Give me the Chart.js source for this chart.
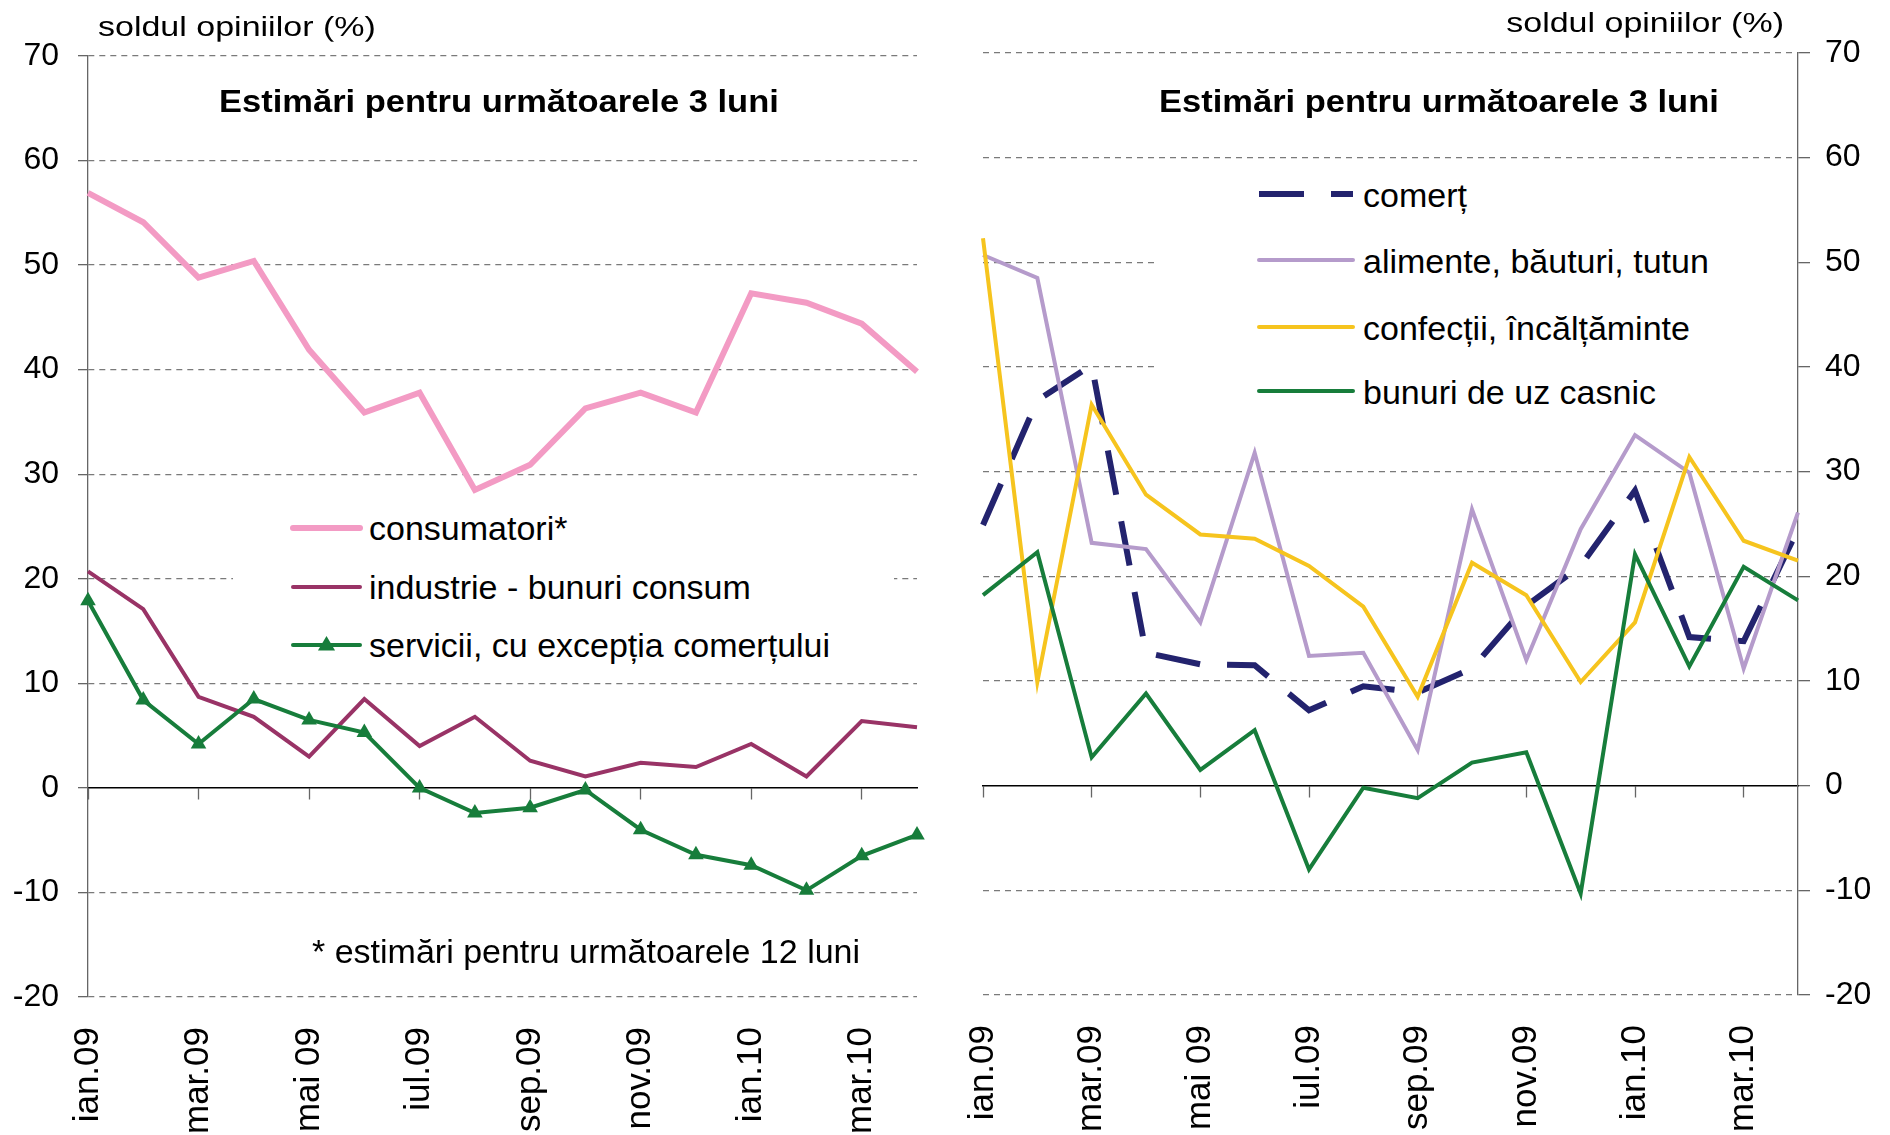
<!DOCTYPE html>
<html><head><meta charset="utf-8">
<script src="https://cdn.jsdelivr.net/npm/chart.js@4.4.1/dist/chart.umd.min.js"></script>
<style>
html,body{margin:0;padding:0;background:#fff;}
#wrap{position:relative;width:1890px;height:1135px;overflow:hidden;font-family:"Liberation Sans",Arial,sans-serif;color:#000;background:#fff;}
canvas{position:absolute;top:0;}
#c1{left:0;} #c2{left:960px;}
.t{position:absolute;white-space:nowrap;line-height:1;}
.box{position:absolute;background:#fff;}
</style></head><body>
<div id="wrap">
<canvas id="c1" width="960" height="1135"></canvas>
<canvas id="c2" width="930" height="1135"></canvas>
</div>
<script>
// ---------- DATA ----------
const months = ['ian.09','feb.09','mar.09','apr.09','mai 09','iun.09','iul.09','aug.09','sep.09','oct.09','nov.09','dec.09','ian.10','feb.10','mar.10','apr.10'];
const yTicks = [-20,-10,0,10,20,30,40,50,60,70];

const leftNames = ['consumatori*','industrie - bunuri consum','servicii, cu excepția comerțului'];
const consumatori = [56.9, 54.1, 48.8, 50.4, 41.9, 35.9, 37.8, 28.5, 30.9, 36.3, 37.8, 35.9, 47.3, 46.4, 44.4, 39.8];
const industrie   = [20.7, 17.1, 8.7, 6.8, 3.0, 8.5, 4.0, 6.8, 2.6, 1.1, 2.4, 2.0, 4.2, 1.1, 6.4, 5.8];
const servicii    = [17.9, 8.4, 4.2, 8.5, 6.5, 5.3, 0.0, -2.4, -1.9, -0.2, -4.0, -6.4, -7.4, -9.8, -6.5, -4.5];

const rightNames = ['comerț','alimente, băuturi, tutun','confecții, încălțăminte','bunuri de uz casnic'];
const comert    = [24.9, 36.8, 40.2, 12.7, 11.6, 11.5, 7.2, 9.5, 8.9, 11.2, 17.2, 21.0, 28.2, 14.2, 13.8, 24.5];
const alimente  = [50.7, 48.5, 23.2, 22.6, 15.6, 31.8, 12.4, 12.7, 3.4, 26.4, 12.0, 24.5, 33.5, 29.9, 11.2, 26.1];
const confectii = [52.3, 9.9, 36.4, 27.8, 24.0, 23.6, 21.0, 17.1, 8.5, 21.3, 18.2, 9.9, 15.6, 31.4, 23.4, 21.5];
const bunuri    = [18.2, 22.3, 2.7, 8.8, 1.5, 5.3, -8.0, -0.2, -1.2, 2.2, 3.2, -10.3, 22.1, 11.4, 20.9, 17.7];

const titleText = 'Estimări pentru următoarele 3 luni';
const axisTitle = 'soldul opiniilor (%)';
const footnote = '* estimări pentru următoarele 12 luni';

// ---------- STYLE ----------
const FONT = '"Liberation Sans", Arial, sans-serif';
const C = {pink:'#F39BC4', maroon:'#993366', green:'#177D3B', navy:'#23236E', lilac:'#B59BCB', yellow:'#F6C41E'};
Chart.defaults.font.family = FONT;
Chart.defaults.color = '#000';

const wrap = document.getElementById('wrap');
function addText(txt, x, baseline, size, o = {}) {
  const d = document.createElement('div');
  d.className = 't'; d.textContent = txt;
  d.style.fontSize = size + 'px';
  if (o.bold) d.style.fontWeight = 'bold';
  d.style.top = (baseline - 0.8465 * size) + 'px';
  if (o.right != null) d.style.right = (1890 - o.right) + 'px'; else d.style.left = x + 'px';
  if (o.sy) { d.style.transform = 'scaleY(' + o.sy + ')'; d.style.transformOrigin = '0 ' + (0.8465 * size) + 'px'; }
  wrap.appendChild(d);
  return d;
}
function addBox(l, t, w, h) {
  const d = document.createElement('div'); d.className = 'box';
  Object.assign(d.style, {left: l + 'px', top: t + 'px', width: w + 'px', height: h + 'px'});
  wrap.appendChild(d);
}
function addSample(x1, x2, y, ds) {
  const w = x2 - x1, h = 24;
  const ns = 'http://www.w3.org/2000/svg';
  const s = document.createElementNS(ns, 'svg');
  s.setAttribute('width', w); s.setAttribute('height', h);
  s.style.position = 'absolute'; s.style.left = x1 + 'px'; s.style.top = (y - h / 2) + 'px'; s.style.overflow = 'visible';
  const ln = document.createElementNS(ns, 'line');
  ln.setAttribute('x1', 0); ln.setAttribute('x2', w); ln.setAttribute('y1', h / 2); ln.setAttribute('y2', h / 2);
  ln.setAttribute('stroke', ds.borderColor); ln.setAttribute('stroke-width', ds.borderWidth);
  ln.setAttribute('stroke-linecap', ds.borderDash && ds.borderDash.length ? 'butt' : 'round');
  if (ds.borderDash && ds.borderDash.length) ln.setAttribute('stroke-dasharray', ds.borderDash.join(' '));
  s.appendChild(ln);
  if (ds.pointStyle === 'triangle') {
    const p = document.createElementNS(ns, 'polygon');
    const cx = w / 2, cy = h / 2, r = ds.pointRadius;
    p.setAttribute('points', `${cx},${cy - r} ${cx - r * 0.95},${cy + r * 0.6} ${cx + r * 0.95},${cy + r * 0.6}`);
    p.setAttribute('fill', ds.pointBackgroundColor);
    s.appendChild(p);
  }
  wrap.appendChild(s);
}

function line(label, data, color, width, order, extra = {}) {
  return Object.assign({label, data, borderColor: color, backgroundColor: color, borderWidth: width,
    pointRadius: 0, pointHoverRadius: 0, tension: 0, fill: false, order, borderJoinStyle: 'miter', borderCapStyle: 'butt'}, extra);
}

function makeChart(canvas, datasets, side) {
  const left = side === 'left';
  return new Chart(canvas, {
    type: 'line',
    data: {labels: months, datasets},
    options: {
      responsive: false, animation: false, devicePixelRatio: 1,
      layout: {padding: left ? {left: 0, right: 43, top: 56, bottom: 0} : {left: 23, right: 0, top: 53, bottom: 0}},
      plugins: {legend: {display: false}, tooltip: {enabled: false}},
      scales: {
        x: {
          type: 'category', position: 'bottom',
          ticks: {autoSkip: false, minRotation: 90, maxRotation: 90, padding: 30,
            font: {size: 35, lineHeight: 1}, color: '#000',
            callback: (v, i) => (i % 2 === 0 ? months[i] : '')},
          grid: {display: false, drawTicks: false}, border: {display: false},
          afterFit: s => { s.height = left ? 138 : 140; s.paddingLeft = 0; s.paddingRight = 0; }
        },
        x0: {
          type: 'category', position: {y: 0},
          ticks: {display: false},
          grid: {drawOnChartArea: false, drawTicks: true, tickLength: 11, tickWidth: 1.3,
            tickColor: c => (c.index % 2 === 0 ? '#666' : 'rgba(0,0,0,0)'), color: '#000'},
          border: {display: true, color: '#000', width: 1.5},
          afterFit: s => { s.paddingLeft = 0; s.paddingRight = 0; }
        },
        y: {
          type: 'linear', position: left ? 'left' : 'right', min: yTicks[0], max: yTicks[yTicks.length - 1],
          afterBuildTicks: s => { s.ticks = yTicks.map(v => ({value: v})); },
          ticks: {font: {size: 32}, color: '#000', padding: left ? 19 : 15},
          grid: {color: c => (c.tick && c.tick.value === 0 ? 'rgba(0,0,0,0)' : '#7a7a7a'), lineWidth: 1.3,
            tickLength: left ? 10 : 12, tickColor: '#666', tickWidth: 1.3, tickBorderDash: []},
          border: {display: true, color: '#666', width: 1.3, dash: [6, 5]},
          afterFit: s => { s.width = left ? 88 : 92; s.paddingTop = 0; s.paddingBottom = 0; }
        }
      }
    }
  });
}

const leftSets = [
  line(leftNames[0], consumatori, C.pink, 6, 3),
  line(leftNames[1], industrie, C.maroon, 4, 2),
  line(leftNames[2], servicii, C.green, 4, 1, {pointStyle: 'triangle', pointRadius: 9, pointBackgroundColor: C.green, pointBorderColor: C.green, pointBorderWidth: 0})
];
const rightSets = [
  line(rightNames[0], comert, C.navy, 6, 4, {borderDash: [45, 27]}),
  line(rightNames[1], alimente, C.lilac, 4, 3),
  line(rightNames[2], confectii, C.yellow, 4, 2),
  line(rightNames[3], bunuri, C.green, 4, 1)
];

makeChart(document.getElementById('c1'), leftSets, 'left');
makeChart(document.getElementById('c2'), rightSets, 'right');

// ---------- overlays: legends, titles, notes ----------
addBox(233, 498, 661, 176);
const leftRows = [528, 587, 645];
leftSets.forEach((ds, i) => { addSample(293, 360, leftRows[i], ds); addText(ds.label, 369, leftRows[i] + 12, 34); });

addBox(1159, 165, 638, 260);
const rightRows = [194, 260, 327, 391];
rightSets.forEach((ds, i) => { addSample(1259, 1353, rightRows[i], ds); addText(ds.label, 1363, rightRows[i] + 12.5, 34); });

addText(titleText, 219, 112.5, 34.5, {bold: true, sy: 0.9});
addText(titleText, 1159, 112.5, 34.5, {bold: true, sy: 0.9});
addText(axisTitle, 98, 36, 34, {sy: 0.82});
addText(axisTitle, 0, 32, 34, {sy: 0.82, right: 1784});
addText(footnote, 312, 963, 34);
</script>
</body></html>
